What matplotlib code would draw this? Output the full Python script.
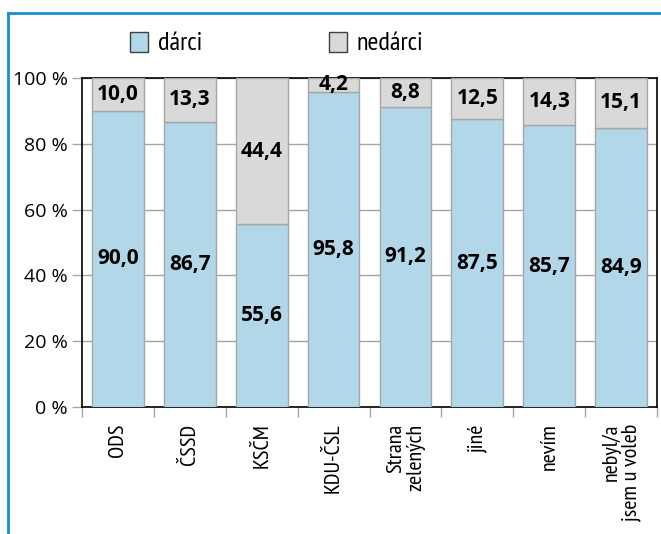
import matplotlib
matplotlib.use("Agg")
import matplotlib.pyplot as plt
from matplotlib.patches import Rectangle
from matplotlib.lines import Line2D

categories = ["ODS", "ČSSD", "KSČM", "KDU-ČSL", "Strana\nzelených", "jiné", "nevím", "nebyl/a\njsem u voleb"]
darci = [90.0, 86.7, 55.6, 95.8, 91.2, 87.5, 85.7, 84.9]
nedarci = [10.0, 13.3, 44.4, 4.2, 8.8, 12.5, 14.3, 15.1]
yticks = [0, 20, 40, 60, 80, 100]
ytick_labels = ["0 %", "20 %", "40 %", "60 %", "80 %", "100 %"]
series_names = ["dárci", "nedárci"]

blue = "#b2d7e8"
grey = "#d9d9d9"
edge = "#a6a6a6"

MAIN = ['Open Sans', 'DejaVu Sans']
NARROW = ['PT Sans Narrow', 'Fira Sans Condensed', 'DejaVu Sans']
plt.rcParams['font.family'] = MAIN

fig = plt.figure(figsize=(6.61, 5.34), dpi=100)
W, H = 661, 534
ax = fig.add_axes([82 / W, 1 - 407 / H, (657 - 82) / W, (407 - 78) / H])

x = list(range(len(categories)))
bw = 0.72
ax.bar(x, darci, width=bw, color=blue, edgecolor=edge, linewidth=1, zorder=3)
ax.bar(x, nedarci, bottom=darci, width=bw, color=grey, edgecolor=edge, linewidth=1, zorder=3)

for i in x:
    ax.text(i, darci[i] / 2, f"{darci[i]:.1f}".replace(".", ","), ha="center", va="center",
            fontsize=15, fontweight="bold", zorder=4)
    ax.text(i, darci[i] + nedarci[i] / 2, f"{nedarci[i]:.1f}".replace(".", ","), ha="center", va="center",
            fontsize=15, fontweight="bold", zorder=4)

ax.set_xlim(-0.5, len(categories) - 0.5)
ax.set_ylim(0, 100)
ax.set_yticks(yticks)
ax.set_yticklabels(ytick_labels, fontsize=14)
ax.yaxis.grid(True, color="#a6a6a6", linewidth=1, zorder=0)
ax.set_axisbelow(True)
ax.tick_params(axis="y", length=7, color="#a6a6a6", width=1, pad=3)

ax.set_xticks([i + 0.5 for i in range(-1, len(categories))], minor=False)
ax.set_xticklabels([])
ax.tick_params(axis="x", length=7, color="#a6a6a6", width=1)
for i, c in enumerate(categories):
    ax.text(i, -5, c, rotation=90, ha="center", va="top", fontsize=16,
            multialignment="right", linespacing=1.05, family=NARROW, transform=ax.transData)

for s in ax.spines.values():
    s.set_color("black")
    s.set_linewidth(1.2)

# legend
for (lx, name, col) in [(130, series_names[0], blue), (329, series_names[1], grey)]:
    fig.patches.append(Rectangle((lx / W, 1 - 52 / H), 18 / W, 20 / H, transform=fig.transFigure,
                                 facecolor=col, edgecolor="#404040", linewidth=1))
    fig.text((lx + 28) / W, 1 - 43 / H, name, fontsize=19, va="center", ha="left", family=NARROW)

# outer blue frame lines
fig.lines.append(Line2D([8 / W, 1], [1 - 13 / H, 1 - 13 / H], transform=fig.transFigure, color="#1a8fcf", linewidth=2))
fig.lines.append(Line2D([8 / W, 8 / W], [1 - 13 / H, 0], transform=fig.transFigure, color="#1a8fcf", linewidth=2))

fig.savefig("out.png", dpi=100)
